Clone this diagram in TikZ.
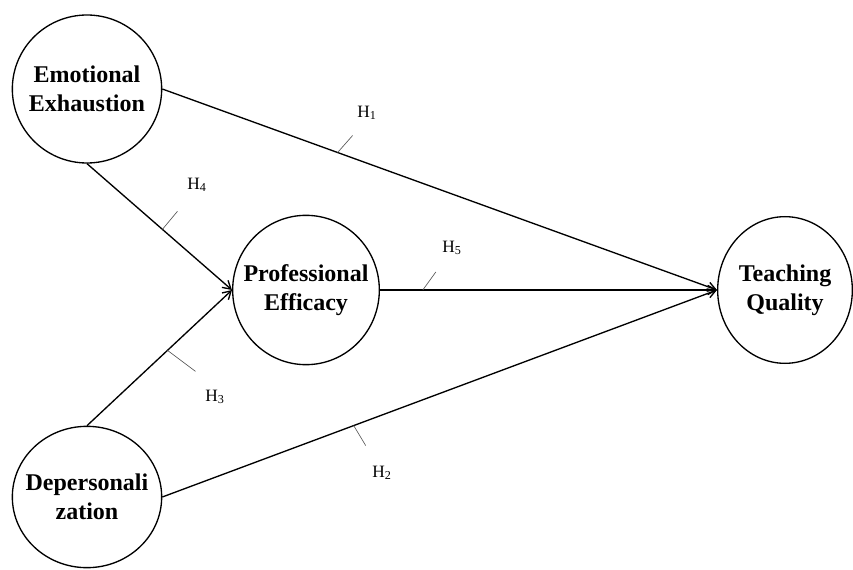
\documentclass[tikz,border=0pt]{standalone}
\usepackage{fontspec}
\setmainfont{Liberation Serif}
\usepackage{tikz}
\usetikzlibrary{arrows.meta, shapes.geometric}

\tikzset{
  construct/.style={draw, line width=1pt, ellipse, inner sep=0pt},
  construct text/.style={align=center, inner sep=0pt,
    font=\fontsize{18}{22}\selectfont\bfseries},
  path/.style={line width=1pt, ->},
  tick/.style={gray!70!black, line width=0.5pt},
  hyp/.style={font=\fontsize{13}{15}\selectfont}
}

\begin{document}
\begin{tikzpicture}[>={Straight Barb[length=6pt, width=7pt]}, x=0.75pt, y=-0.75pt]
    \useasboundingbox (0,0) rectangle (853,570);

    % Constructs
    \node[construct, minimum width=112pt, minimum height=111pt,
      label={[construct text]center:Emotional\\Exhaustion}] (ee) at (87,89) {};
    \node[construct, minimum width=110pt, minimum height=112pt,
      label={[construct text]center:Professional\\Efficacy}] (pe) at (306,290) {};
    \node[construct, minimum width=101pt, minimum height=110pt,
      label={[construct text]center:Teaching\\Quality}] (tq) at (785,290) {};
    \node[construct, minimum width=112pt, minimum height=106pt,
      label={[construct text]center:Depersonali\\zation}] (dep) at (87,497) {};

    % Paths
    \draw[path] (ee.east) -- coordinate[pos=0.316] (t1) (tq.west);
    \draw[path] (dep.east) -- coordinate[pos=0.345] (t2) (tq.west);
    \draw[path] (dep.north) -- coordinate[pos=0.555] (t3) (pe.west);
    \draw[path] (ee.south) -- coordinate[pos=0.52] (t4) (pe.west);
    \draw[path] (pe.east) -- coordinate[pos=0.127] (t5) (tq.west);

    % Hypothesis ticks
    \draw[tick] (t1) -- ++(15,-17);
    \draw[tick] (t2) -- ++(12,20);
    \draw[tick] (t3) -- ++(28,21);
    \draw[tick] (t4) -- ++(15,-18);
    \draw[tick] (t5) -- ++(13,-18);

    % Hypothesis labels
    \node[hyp] (h1) at (367,113) {H\textsubscript{1}};
    \node[hyp] (h2) at (382,473) {H\textsubscript{2}};
    \node[hyp] (h3) at (215,397) {H\textsubscript{3}};
    \node[hyp] (h4) at (197,185) {H\textsubscript{4}};
    \node[hyp] (h5) at (452,248) {H\textsubscript{5}};
\end{tikzpicture}
\end{document}
